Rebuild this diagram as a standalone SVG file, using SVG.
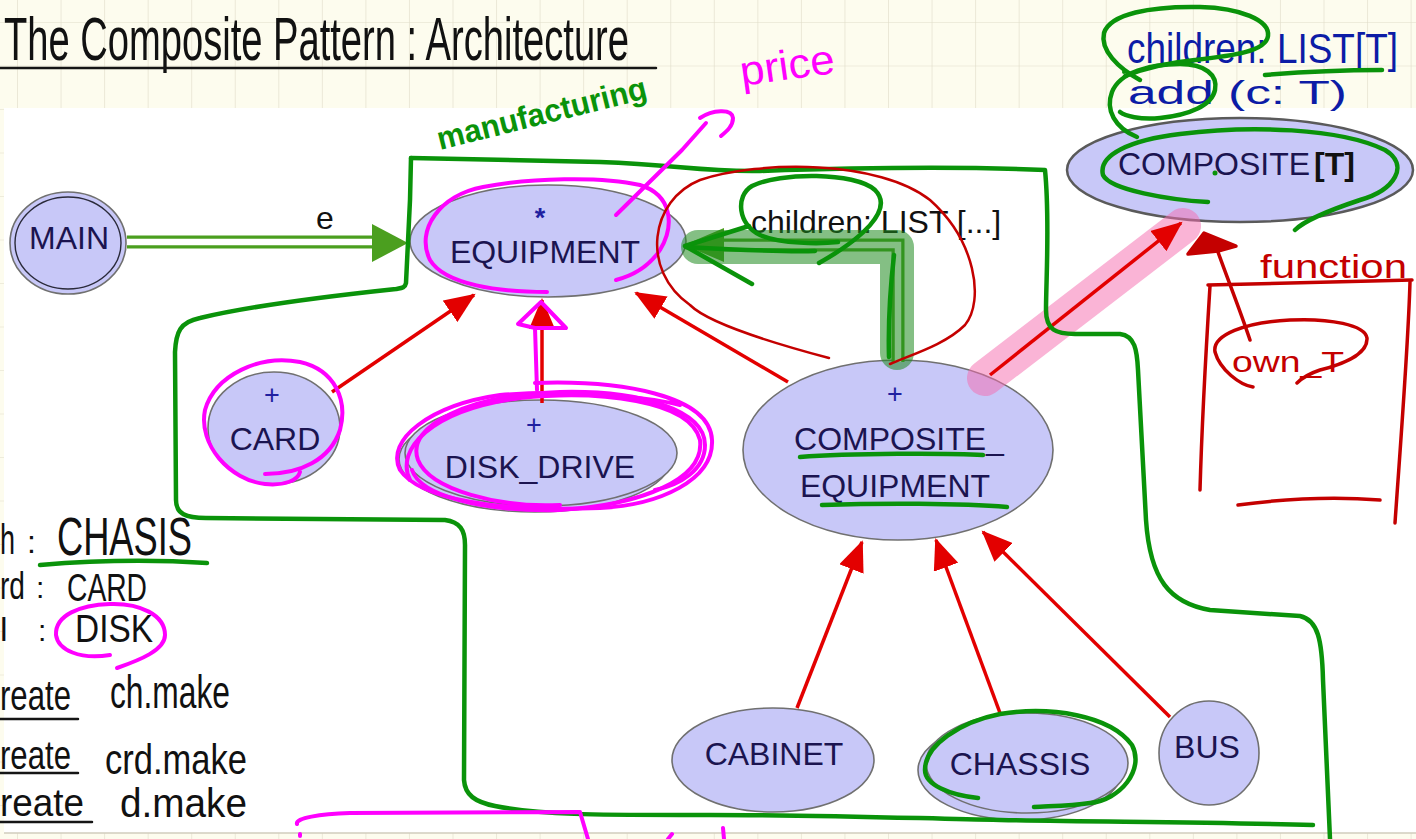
<svg xmlns="http://www.w3.org/2000/svg" width="1416" height="839" viewBox="0 0 1416 839">
  <defs>
    <!-- notebook paper grid -->
    <pattern id="grid" x="17" y="22" width="43.55" height="43.5" patternUnits="userSpaceOnUse">
      <rect width="43.55" height="43.5" fill="#fdfcee"/>
      <path d="M0,0 V43.5 M0,0 H43.55" stroke="#e0dcc8" stroke-width="1.2" fill="none"/>
    </pattern>
    <marker id="redhead" markerUnits="userSpaceOnUse" markerWidth="32" markerHeight="26" viewBox="0 0 32 26" refX="29" refY="13" orient="auto">
      <path d="M0,0 L31,13 L0,26 Z" fill="#e30000"/>
    </marker>
  </defs>
  <style>
    .node ellipse { fill: #c8c8f8; stroke: #707070; stroke-width: 1.6; }
    .label { font-family: "Liberation Sans", Arial, sans-serif; font-size: 32px; fill: #1b1450; text-anchor: middle; }
    .mark { font-family: "Liberation Sans", Arial, sans-serif; font-size: 27px; fill: #2020a0; text-anchor: middle; }
    .inherit { stroke: #e30000; stroke-width: 3.5; fill: none; marker-end: url(#redhead); }
    .client-out { stroke: #4b9f1f; stroke-width: 13; fill: none; }
    .client-in { stroke: #ffffff; stroke-width: 6.5; fill: none; }
    .ink { fill: none; stroke-linecap: round; stroke-linejoin: round; }
    .g { stroke: #0a930a; stroke-width: 4.5; }
    .m { stroke: #ff00ff; stroke-width: 4; }
    .r { stroke: #c40000; stroke-width: 3.5; }
    .k { stroke: #151515; stroke-width: 2.5; }
    .hand { font-family: "Liberation Sans", Arial, sans-serif; }
    .pen { font-family: "Liberation Sans", Arial, sans-serif; fill: #111111; }
  </style>

  <!-- page background and pasted diagram area -->
  <rect x="0" y="0" width="1416" height="839" fill="url(#grid)"/>
  <rect x="4" y="108" width="1412" height="725" fill="#ffffff"/>
  <path d="M4,833 H1416" stroke="#d0cdbd" stroke-width="1.5"/>

  <!-- nodes -->
  <g id="node-main" class="node">
    <ellipse cx="68" cy="243" rx="58" ry="51"/>
    <ellipse cx="68" cy="243" rx="53" ry="46" style="fill:none;stroke:#2a2a3a;stroke-width:1.4"/>
    <text class="label" x="69" y="249">MAIN</text>
  </g>
  <g id="node-equipment" class="node">
    <ellipse cx="548" cy="241" rx="138" ry="56"/>
    <text class="mark" x="540" y="227" font-weight="bold" font-size="26">*</text>
    <text class="label" x="545" y="263">EQUIPMENT</text>
  </g>
  <g id="node-card" class="node">
    <ellipse cx="274" cy="428" rx="66" ry="56"/>
    <text class="mark" x="272" y="404">+</text>
    <text class="label" x="275" y="450">CARD</text>
  </g>
  <g id="node-disk-drive" class="node">
    <ellipse cx="535" cy="459" rx="136" ry="53"/>
    <ellipse cx="541" cy="453" rx="136" ry="53"/>
    <text class="mark" x="534" y="434">+</text>
    <text class="label" x="540" y="478">DISK_DRIVE</text>
  </g>
  <g id="node-composite-equipment" class="node">
    <ellipse cx="898" cy="450" rx="155" ry="90"/>
    <text class="mark" x="895" y="403">+</text>
    <text class="label" x="899" y="450">COMPOSITE_</text>
    <text class="label" x="895" y="497">EQUIPMENT</text>
  </g>
  <g id="node-cabinet" class="node">
    <ellipse cx="773" cy="760" rx="101" ry="52"/>
    <text class="label" x="774" y="765">CABINET</text>
  </g>
  <g id="node-chassis" class="node">
    <ellipse cx="1020" cy="770" rx="102" ry="50"/>
    <ellipse cx="1027" cy="763" rx="101" ry="50"/>
    <text class="label" x="1020" y="775">CHASSIS</text>
  </g>
  <g id="node-bus" class="node">
    <ellipse cx="1209" cy="753" rx="50" ry="52"/>
    <text class="label" x="1207" y="758">BUS</text>
  </g>
  <g id="node-composite-t" class="node">
    <ellipse cx="1240" cy="170" rx="173" ry="52" style="stroke:#5a5a5a;stroke-width:2.5"/>
    <text class="label" x="1118" y="175" style="text-anchor:start">COMPOSITE<tspan dx="4" font-weight="bold" fill="#111111">[T]</tspan></text>
  </g>

  <!-- pink marker stroke under the inheritance arrow -->
  <g id="highlight-pink">
    <path d="M985,378 L1183,226" stroke="#f569ad" stroke-opacity="0.5" stroke-width="36" stroke-linecap="round" fill="none"/>
  </g>

  <!-- connectors -->
  <g id="connectors">
    <!-- client: MAIN -> EQUIPMENT -->
    <path class="client-out" d="M127,242 H374"/>
    <path class="client-in" d="M127,242 H374"/>
    <path d="M372,224 L408,243 L372,262 Z" fill="#4b9f1f"/>
    <text class="hand" x="325" y="229" font-size="32" text-anchor="middle" fill="#111111">e</text>
    <!-- client: COMPOSITE_EQUIPMENT -> EQUIPMENT -->
    <path class="client-out" d="M898,362 V245 H724" stroke-linejoin="miter"/>
    <path class="client-in" d="M898,362 V245 H724" stroke-linejoin="miter"/>
    <path d="M724,228 L684,245 L724,262 Z" fill="#4b9f1f"/>
    <text class="hand" x="751" y="233" font-size="32" fill="#111111">children: LIST [...]</text>
    <!-- inheritance -->
    <path class="inherit" d="M332,392 L474,295"/>
    <path class="inherit" d="M542,403 L542,300"/>
    <path class="inherit" d="M788,382 L636,293"/>
    <path class="inherit" d="M990,375 L1181,223"/>
    <path class="inherit" d="M797,708 L862,542"/>
    <path class="inherit" d="M1000,713 L936,540"/>
    <path class="inherit" d="M1170,717 L983,532"/>
  </g>

  <!-- green marker stroke over the children arrow -->
  <g id="highlight-green">
    <path d="M897,353 V247 H698" stroke="#1f8a1f" stroke-opacity="0.55" stroke-width="34" stroke-linecap="round" stroke-linejoin="round" fill="none"/>
  </g>

  <!-- handwritten notes -->
  <g id="notes-black">
    <text class="pen" x="4" y="60" font-size="62" textLength="625" lengthAdjust="spacingAndGlyphs">The Composite Pattern : Architecture</text>
    <path class="ink k" d="M0,68 L656,68"/>
    <text class="pen" x="0" y="554" font-size="42" textLength="15" lengthAdjust="spacingAndGlyphs">h</text>
    <text class="pen" x="27" y="553" font-size="32">:</text>
    <text class="pen" x="57" y="555" font-size="54" textLength="135" lengthAdjust="spacingAndGlyphs">CHASIS</text>
    <text class="pen" x="0" y="599" font-size="38" textLength="25" lengthAdjust="spacingAndGlyphs">rd</text>
    <text class="pen" x="36" y="598" font-size="30">:</text>
    <text class="pen" x="67" y="601" font-size="38" textLength="80" lengthAdjust="spacingAndGlyphs">CARD</text>
    <text class="pen" x="0" y="641" font-size="34">l</text>
    <text class="pen" x="38" y="641" font-size="30">:</text>
    <text class="pen" x="75" y="642" font-size="38" textLength="78" lengthAdjust="spacingAndGlyphs">DISK</text>
    <text class="pen" x="0" y="710" font-size="42" textLength="71" lengthAdjust="spacingAndGlyphs">reate</text>
    <path class="ink k" d="M0,719 H78"/>
    <text class="pen" x="110" y="708" font-size="46" textLength="120" lengthAdjust="spacingAndGlyphs">ch.make</text>
    <text class="pen" x="0" y="769" font-size="40" textLength="71" lengthAdjust="spacingAndGlyphs">reate</text>
    <path class="ink k" d="M0,773 H78"/>
    <text class="pen" x="105" y="774" font-size="42" textLength="142" lengthAdjust="spacingAndGlyphs">crd.make</text>
    <text class="pen" x="0" y="816" font-size="38" textLength="84" lengthAdjust="spacingAndGlyphs">reate</text>
    <path class="ink k" d="M0,822 H92"/>
    <text class="pen" x="120" y="817" font-size="40" textLength="127" lengthAdjust="spacingAndGlyphs">d.make</text>
  </g>

  <g id="notes-blue">
    <text class="hand" transform="translate(1127,63) scale(1,1.12)" font-size="38" textLength="271" lengthAdjust="spacingAndGlyphs" fill="#0c1ca6">children: LIST[T]</text>
    <text class="hand" x="1128" y="104" font-size="34" textLength="219" lengthAdjust="spacingAndGlyphs" fill="#0c1ca6">add (c: T)</text>
  </g>

  <g id="notes-green" class="ink g">
    <!-- region boundary -->
    <path d="M411,158 C450,159 520,160 600,162 C680,165 700,172 760,171 C850,168 950,166 1045,170 C1050,220 1046,280 1046,310 C1046,330 1056,334 1075,334 L1120,334 C1135,336 1137,350 1138,370 L1146,520 C1150,580 1170,603 1210,610 L1300,616 C1318,620 1322,640 1323,680 L1330,839"/>
    <path d="M411,158 L410,200 L406,283 C405,288 402,288 396,289 C330,296 250,306 200,318 C180,322 176,332 175,352 L176,500 C176,514 186,518 206,518 L445,520 C460,522 465,530 465,545 L464,780 C465,795 475,802 495,806 C540,815 600,815 680,815 C800,814 900,818 1000,820 C1100,822 1200,822 1313,825"/>
    <!-- notes around the children link -->
    <path d="M749,226 L685,246 L752,284"/>
    <path d="M686,247 C740,250 780,252 815,251"/>
    <path d="M819,263 C860,240 895,210 875,190 C855,172 780,172 752,186 C735,196 738,225 760,235 C780,244 820,244 838,242"/>
    <path d="M889,357 C888,320 890,290 894,255"/>
    <path d="M800,457 C850,453 950,453 983,455"/>
    <path d="M822,505 C880,503 960,503 1007,507"/>
    <path d="M978,798 C950,795 925,785 925,770 C925,745 960,722 1000,714 C1050,706 1110,715 1132,745 C1145,770 1120,800 1090,803 C1070,806 1050,806 1034,807"/>
    <!-- top right -->
    <path d="M1208,202 C1170,200 1110,190 1103,175 C1098,155 1130,140 1180,134 C1250,125 1340,128 1385,150 C1410,165 1395,190 1360,200 C1330,210 1305,220 1295,230"/>
    <path d="M1140,80 C1118,68 1100,50 1104,33 C1110,14 1150,6 1200,7 C1240,8 1270,20 1268,36 C1266,52 1230,56 1195,60 C1165,63 1140,70 1125,76"/>
    <path d="M1137,137 C1115,128 1105,110 1112,92 C1120,72 1150,64 1180,64 C1205,64 1218,75 1215,90 C1212,105 1190,115 1160,118 C1140,120 1125,116 1120,112"/>
    <path d="M1265,75 C1300,72 1350,70 1382,70"/>
    <circle cx="1215" cy="173" r="2.5" fill="#0a930a" stroke="none"/>
    <circle cx="1124" cy="72" r="2" fill="#0a930a" stroke="none"/>
    <!-- left notes -->
    <path d="M40,565 C100,560 160,560 207,563"/>
    <text class="hand" transform="translate(440,150) rotate(-14)" font-size="32" font-weight="bold" textLength="215" lengthAdjust="spacingAndGlyphs" fill="#0a930a" stroke="none">manufacturing</text>
  </g>

  <g id="notes-magenta" class="ink m">
    <path d="M547,292 C500,292 445,285 430,260 C415,230 440,195 483,187 C530,178 600,176 640,185 C672,195 675,225 660,250 C650,265 635,275 616,280"/>
    <path d="M616,215 L682,150 L706,123"/>
    <path d="M700,118 C712,110 732,108 733,118 C733,126 727,131 721,136"/>
    <text class="hand" transform="translate(742,86) rotate(-8)" font-size="42" textLength="95" lengthAdjust="spacingAndGlyphs" fill="#ff00ff" stroke="none">price</text>
    <path d="M265,474 C300,474 330,460 340,430 C348,400 335,370 300,362 C260,354 215,375 205,410 C198,445 230,480 265,484 C285,486 298,480 300,472"/>
    <path d="M537,390 L535,328 L518,324 L541,302 L566,328 L535,328"/>
    <path d="M535,383 C620,380 710,395 712,440 C714,480 660,505 600,508 C500,512 420,500 400,470 C385,440 430,405 500,395 C560,390 640,395 680,405"/>
    <path d="M410,480 C395,450 430,410 520,398 C600,390 690,400 700,440 C705,480 640,505 560,510 C480,512 420,495 412,470"/>
    <path d="M560,505 C500,508 430,490 418,460 C405,425 470,395 560,392 C640,390 705,410 705,445 C705,470 680,485 655,490"/>
    <path d="M110,655 C80,660 58,650 56,635 C55,615 80,605 110,604 C140,603 165,615 165,635 C165,650 140,660 117,668"/>
    <path d="M297,824 C295,818 320,814 350,813 C420,813 500,813 580,812 L588,839"/>
    <path d="M300,834 L300,836"/>
    <path d="M672,834 L668,839"/>
    <path d="M723,828 L724,839"/>
  </g>

  <g id="notes-red" class="ink r">
    <path d="M829,358 C780,345 710,325 690,305 C640,270 650,200 700,180 C760,160 880,160 930,200 C975,240 985,300 965,325 C945,345 910,355 890,364" style="stroke-width:2.5"/>
    <path d="M1250,340 C1240,310 1228,280 1218,252"/>
    <path d="M1188,254 L1204,233 L1236,246 L1218,251 Z" fill="#c40000"/>
    <text class="hand" x="1260" y="278" font-size="34" textLength="147" lengthAdjust="spacingAndGlyphs" fill="#c40000" stroke="none">function</text>
    <path d="M1208,285 L1412,280"/>
    <path d="M1210,286 C1206,350 1202,420 1200,490"/>
    <path d="M1410,282 C1408,350 1400,450 1395,523"/>
    <path d="M1238,505 C1290,498 1340,497 1380,500"/>
    <path d="M1253,387 C1240,385 1220,370 1215,352 C1212,335 1245,322 1290,320 C1330,318 1365,325 1367,338 C1368,355 1340,365 1320,370 C1308,374 1300,380 1297,383"/>
    <text class="hand" x="1232" y="372" font-size="30" textLength="112" lengthAdjust="spacingAndGlyphs" fill="#c40000" stroke="none">own_T</text>
  </g>
</svg>
